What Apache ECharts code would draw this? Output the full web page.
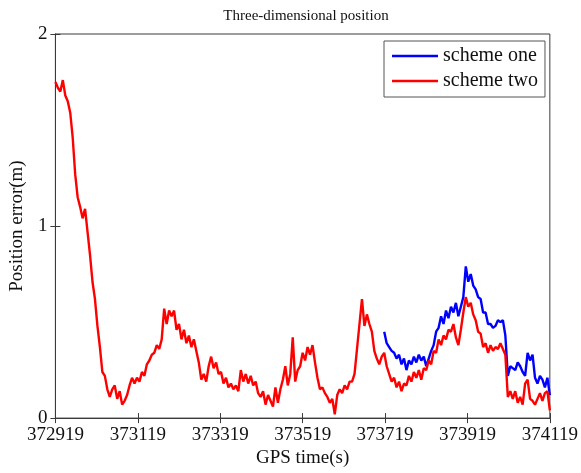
<!DOCTYPE html>
<html>
<head>
<meta charset="utf-8">
<script src="https://cdn.jsdelivr.net/npm/echarts@6/dist/echarts.min.js"></script>
<style>html,body{margin:0;padding:0;background:#fff}#c{width:581px;height:473px}</style>
</head>
<body>
<div id="c"></div>
<script>
// GPS time origin and sampling step (s)
const timeOrigin = 372919;
const sampleStep = 6;
const xTickValues = [0, 200, 400, 600, 800, 1000, 1200]; // offsets from origin
const yTicks = [0, 1, 2];

// scheme two (red): samples at t = 0, 6, 12, ... 1200 (offset seconds)
const schemeTwo = [
  1.75,1.72,1.70,1.76,1.68,1.65,1.59,1.46,1.27,1.15,
  1.10,1.04,1.09,0.97,0.85,0.71,0.62,0.48,0.37,0.24,
  0.22,0.15,0.11,0.15,0.17,0.10,0.14,0.07,0.09,0.12,
  0.17,0.21,0.18,0.21,0.19,0.24,0.22,0.28,0.30,0.33,
  0.34,0.38,0.36,0.41,0.57,0.49,0.56,0.53,0.56,0.46,
  0.49,0.41,0.46,0.39,0.43,0.37,0.41,0.35,0.29,0.20,
  0.23,0.19,0.27,0.32,0.26,0.29,0.23,0.24,0.18,0.21,
  0.16,0.18,0.15,0.17,0.14,0.25,0.19,0.23,0.18,0.22,
  0.17,0.19,0.13,0.11,0.14,0.07,0.12,0.09,0.06,0.16,
  0.08,0.15,0.20,0.27,0.17,0.23,0.42,0.19,0.25,0.27,
  0.34,0.30,0.37,0.33,0.38,0.29,0.21,0.15,0.16,0.13,
  0.11,0.08,0.10,0.02,0.12,0.15,0.13,0.17,0.15,0.19,
  0.19,0.23,0.36,0.49,0.62,0.48,0.54,0.49,0.45,0.35,
  0.31,0.28,0.32,0.34,0.27,0.23,0.19,0.21,0.16,0.19,
  0.14,0.18,0.17,0.22,0.19,0.24,0.21,0.25,0.20,0.26,
  0.25,0.30,0.28,0.35,0.34,0.41,0.38,0.43,0.41,0.46,
  0.45,0.49,0.42,0.38,0.46,0.55,0.63,0.58,0.60,0.54,
  0.51,0.45,0.44,0.37,0.39,0.34,0.38,0.35,0.37,0.36,
  0.39,0.36,0.33,0.11,0.14,0.10,0.14,0.08,0.11,0.07,
  0.18,0.20,0.10,0.09,0.07,0.10,0.13,0.09,0.13,0.14,
  0.04
];

// scheme one (blue): starts at offset 798, same step, to 1200
const schemeOneStart = 798;
const schemeOne = [
  0.45,0.39,0.37,0.35,0.34,0.31,0.33,0.28,0.31,0.25,
  0.30,0.28,0.32,0.29,0.33,0.30,0.32,0.27,0.31,0.35,
  0.38,0.45,0.47,0.53,0.49,0.56,0.52,0.58,0.55,0.60,
  0.53,0.58,0.63,0.79,0.71,0.75,0.69,0.67,0.63,0.62,
  0.55,0.55,0.49,0.49,0.47,0.48,0.51,0.50,0.51,0.43,
  0.22,0.27,0.26,0.25,0.29,0.27,0.24,0.22,0.34,0.30,
  0.33,0.21,0.18,0.22,0.20,0.16,0.21,
  0.12
];

const pairs = (arr, start) => arr.map((v, i) => [start + i * sampleStep, v]);

const font = '"Liberation Serif", "Times New Roman", serif';
const axisCol = '#3a3a3a';
const chart = echarts.init(document.getElementById('c'), null, {renderer: 'canvas'});

const baseX = {
  type: 'value', min: 0, max: 1200, interval: 200,
  splitLine: {show: false},
  axisLine: {show: true, lineStyle: {color: axisCol, width: 1}},
  axisTick: {show: true, inside: true, length: 5, lineStyle: {color: axisCol}}
};
const baseY = {
  type: 'value', min: 0, max: 2, interval: 1,
  splitLine: {show: false},
  axisLine: {show: true, lineStyle: {color: axisCol, width: 1}},
  axisTick: {show: true, inside: true, length: 5, lineStyle: {color: axisCol}}
};

chart.setOption({
  animation: false,
  backgroundColor: '#fff',
  title: {
    text: 'Three-dimensional position', left: 301, top: 4, textAlign: 'center',
    textStyle: {fontFamily: font, fontSize: 15, fontWeight: 'normal', color: '#111'}
  },
  legend: {
    orient: 'vertical', left: 384, top: 41,
    data: ['scheme one', 'scheme two'],
    icon: 'rect', itemWidth: 46, itemHeight: 2.5, itemGap: 5,
    borderColor: '#555', borderWidth: 1, padding: [5, 7, 6, 8],
    backgroundColor: '#fff',
    textStyle: {fontFamily: font, fontSize: 20, color: '#111', padding: [0, 0, 0, 0]}
  },
  grid: {left: 51, right: 29, top: 34, bottom: 51, containLabel: false,
    show: true, borderColor: axisCol, borderWidth: 1},
  xAxis: [
    Object.assign({}, baseX, {
      position: 'bottom',
      axisLabel: {fontFamily: font, fontSize: 19, color: '#111', margin: 7,
        formatter: v => String(timeOrigin + v)},
      name: 'GPS time(s)', nameLocation: 'middle', nameGap: 30,
      nameTextStyle: {fontFamily: font, fontSize: 19, color: '#111'}
    }),
    Object.assign({}, baseX, {position: 'top', axisLabel: {show: false}})
  ],
  yAxis: [
    Object.assign({}, baseY, {
      position: 'left',
      axisLabel: {fontFamily: font, fontSize: 19, color: '#111', margin: 8},
      name: 'Position error(m)', nameLocation: 'middle', nameGap: 26,
      nameTextStyle: {fontFamily: font, fontSize: 19, color: '#111'}
    }),
    Object.assign({}, baseY, {position: 'right', axisLabel: {show: false}})
  ],
  series: [
    {name: 'scheme one', type: 'line', xAxisIndex: 0, yAxisIndex: 0,
     data: pairs(schemeOne, schemeOneStart), showSymbol: false, symbol: 'none',
     lineStyle: {color: '#0000ff', width: 2.4}, itemStyle: {color: '#0000ff'}},
    {name: 'scheme two', type: 'line', xAxisIndex: 0, yAxisIndex: 0,
     data: pairs(schemeTwo, 0), showSymbol: false, symbol: 'none',
     lineStyle: {color: '#ff0000', width: 2.4}, itemStyle: {color: '#ff0000'}}
  ]
});
</script>
</body>
</html>
